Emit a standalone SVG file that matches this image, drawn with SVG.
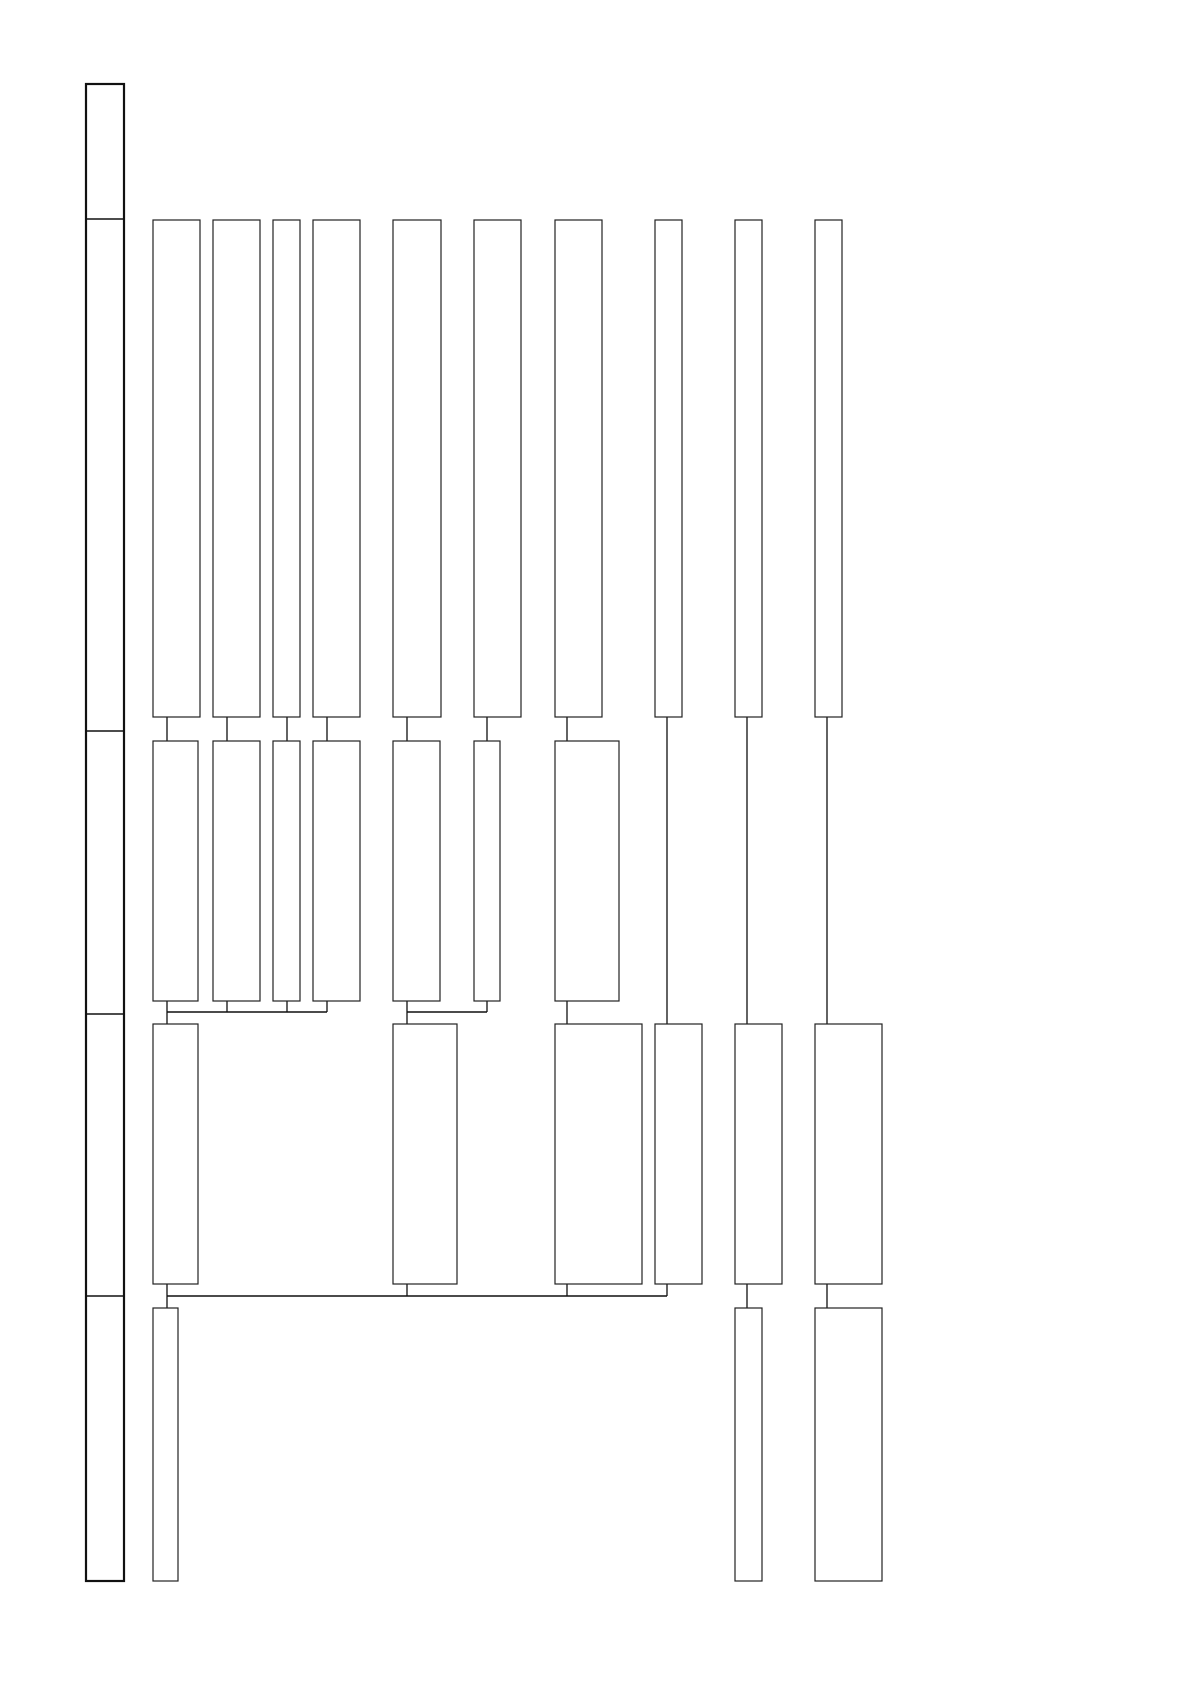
<svg xmlns="http://www.w3.org/2000/svg" width="1190" height="1682" viewBox="0 0 1190 1682">
<style>
.n{fill:#fff;stroke:#222;stroke-width:1.2}
.lane{fill:none;stroke:#111;stroke-width:2.2}
.div{stroke:#111;stroke-width:1.4}
.c{fill:none;stroke:#111;stroke-width:1.3}
</style>
<rect width="1190" height="1682" fill="#fff"/>
<g id="lanes">
<rect class="lane" x="86" y="84" width="38" height="1497"/>
<line class="div" x1="86" y1="219" x2="124" y2="219"/>
<line class="div" x1="86" y1="731" x2="124" y2="731"/>
<line class="div" x1="86" y1="1014" x2="124" y2="1014"/>
<line class="div" x1="86" y1="1296" x2="124" y2="1296"/>
</g>
<g id="connectors">
<path class="c" d="M167 717V741M227 717V741M287 717V741M327 717V741M407 717V741M487 717V741M567 717V741"/>
<path class="c" d="M167 1001V1024M227 1001V1012M287 1001V1012M327 1001V1012M167 1012H327"/>
<path class="c" d="M407 1001V1024M487 1001V1012M407 1012H487"/>
<path class="c" d="M567 1001V1024"/>
<path class="c" d="M667 717V1024M747 717V1024M827 717V1024"/>
<path class="c" d="M167 1284V1308M407 1284V1296M567 1284V1296M667 1284V1296M167 1296H667"/>
<path class="c" d="M747 1284V1308M827 1284V1308"/>
</g>
<g id="r1n1"><rect class="n" x="153" y="220" width="47" height="497"/></g>
<g id="r1n2"><rect class="n" x="213" y="220" width="47" height="497"/></g>
<g id="r1n3"><rect class="n" x="273" y="220" width="27" height="497"/></g>
<g id="r1n4"><rect class="n" x="313" y="220" width="47" height="497"/></g>
<g id="r1n5"><rect class="n" x="393" y="220" width="48" height="497"/></g>
<g id="r1n6"><rect class="n" x="474" y="220" width="47" height="497"/></g>
<g id="r1n7"><rect class="n" x="555" y="220" width="47" height="497"/></g>
<g id="r1n8"><rect class="n" x="655" y="220" width="27" height="497"/></g>
<g id="r1n9"><rect class="n" x="735" y="220" width="27" height="497"/></g>
<g id="r1n10"><rect class="n" x="815" y="220" width="27" height="497"/></g>
<g id="r2n1"><rect class="n" x="153" y="741" width="45" height="260"/></g>
<g id="r2n2"><rect class="n" x="213" y="741" width="47" height="260"/></g>
<g id="r2n3"><rect class="n" x="273" y="741" width="27" height="260"/></g>
<g id="r2n4"><rect class="n" x="313" y="741" width="47" height="260"/></g>
<g id="r2n5"><rect class="n" x="393" y="741" width="47" height="260"/></g>
<g id="r2n6"><rect class="n" x="474" y="741" width="26" height="260"/></g>
<g id="r2n7"><rect class="n" x="555" y="741" width="64" height="260"/></g>
<g id="r3n1"><rect class="n" x="153" y="1024" width="45" height="260"/></g>
<g id="r3n2"><rect class="n" x="393" y="1024" width="64" height="260"/></g>
<g id="r3n3"><rect class="n" x="555" y="1024" width="87" height="260"/></g>
<g id="r3n4"><rect class="n" x="655" y="1024" width="47" height="260"/></g>
<g id="r3n5"><rect class="n" x="735" y="1024" width="47" height="260"/></g>
<g id="r3n6"><rect class="n" x="815" y="1024" width="67" height="260"/></g>
<g id="r4n1"><rect class="n" x="153" y="1308" width="25" height="273"/></g>
<g id="r4n2"><rect class="n" x="735" y="1308" width="27" height="273"/></g>
<g id="r4n3"><rect class="n" x="815" y="1308" width="67" height="273"/></g>
</svg>
